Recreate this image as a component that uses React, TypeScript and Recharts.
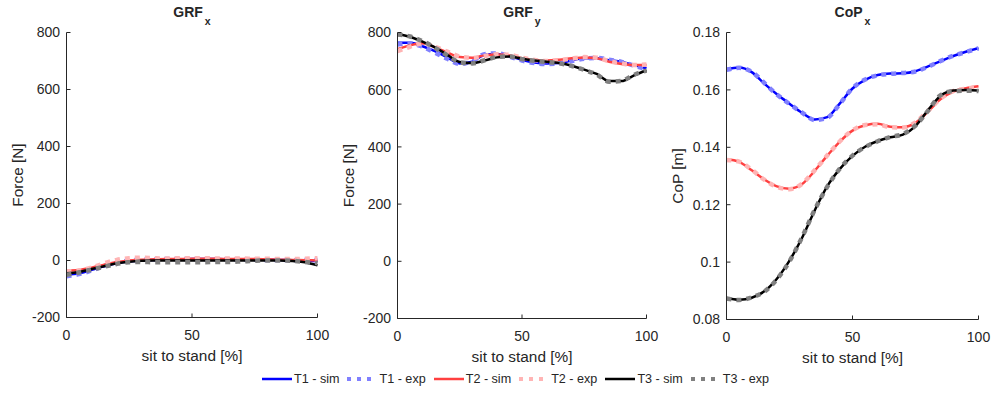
import React from "react";
import { LineChart, Line, XAxis, YAxis } from "recharts";

// sit to stand progress [%]
const pct = [0, 5, 10, 15, 20, 25, 30, 35, 40, 45, 50, 55, 60, 65, 70, 75, 80, 85, 90, 95, 100];

// GRF x [N]
const grfxT1Sim = [-50, -45, -33, -20, -10, -3, 0, 2, 4, 4, 5, 5, 5, 4, 4, 3, 3, 2, 1, 0, -3];
const grfxT1Exp = [-55, -48, -35, -20, -8, 0, 3, 4, 5, 5, 5, 4, 4, 4, 3, 3, 2, 2, 1, 2, 2];
const grfxT2Sim = [-35, -33, -25, -15, -5, 0, 3, 4, 5, 5, 6, 6, 6, 5, 5, 5, 4, 3, 2, 1, 0];
const grfxT2Exp = [-38, -35, -25, -10, 2, 8, 10, 8, 7, 8, 8, 8, 7, 7, 7, 6, 6, 5, 5, 6, 8];
const grfxT3Sim = [-45, -40, -30, -20, -10, -4, -1, 0, 0, 0, 0, 0, 0, 0, 0, 0, 0, 0, -2, -6, -17];
const grfxT3Exp = [-50, -42, -32, -22, -12, -6, -5, -6, -6, -6, -6, -6, -5, -5, -3, -1, 0, 0, -1, -5, -10];

// GRF y [N]
const grfyT1Sim = [764, 764, 752, 735, 713, 692, 698, 722, 725, 717, 704, 695, 692, 693, 703, 710, 710, 703, 697, 686, 675];
const grfyT1Exp = [758, 762, 750, 730, 708, 690, 700, 724, 727, 716, 702, 693, 690, 692, 700, 708, 711, 705, 697, 684, 672];
const grfyT2Sim = [742, 755, 762, 748, 730, 714, 712, 720, 723, 720, 710, 703, 702, 705, 710, 713, 710, 698, 690, 686, 686];
const grfyT2Exp = [735, 750, 762, 750, 733, 716, 711, 718, 724, 722, 712, 704, 700, 703, 709, 714, 712, 700, 692, 686, 688];
const grfyT3Sim = [795, 785, 768, 748, 722, 697, 693, 702, 713, 716, 708, 702, 698, 693, 684, 670, 655, 630, 630, 650, 668];
const grfyT3Exp = [793, 786, 770, 747, 720, 696, 692, 703, 714, 716, 707, 701, 697, 692, 683, 669, 653, 628, 631, 652, 667];

// CoP x [m]
const copT1Sim = [0.1672, 0.1678, 0.1662, 0.1622, 0.1585, 0.1552, 0.152, 0.1497, 0.1505, 0.1553, 0.1605, 0.1635, 0.1652, 0.1657, 0.1658, 0.1665, 0.1682, 0.17, 0.1718, 0.1733, 0.1746];
const copT1Exp = [0.167, 0.1677, 0.1663, 0.1624, 0.1584, 0.1551, 0.1521, 0.1495, 0.1503, 0.1552, 0.1606, 0.1636, 0.1651, 0.1656, 0.1659, 0.1664, 0.1681, 0.1701, 0.1719, 0.1732, 0.1745];
const copT2Sim = [0.1358, 0.1349, 0.132, 0.1288, 0.1264, 0.1256, 0.1272, 0.1318, 0.1371, 0.142, 0.1458, 0.1477, 0.1482, 0.1472, 0.147, 0.1485, 0.1525, 0.1568, 0.1594, 0.1606, 0.1613];
const copT2Exp = [0.1356, 0.135, 0.1322, 0.1287, 0.1262, 0.1254, 0.1273, 0.132, 0.1372, 0.1421, 0.1459, 0.1478, 0.148, 0.147, 0.1469, 0.1487, 0.1527, 0.157, 0.1596, 0.1604, 0.161];
const copT3Sim = [0.0875, 0.0869, 0.0876, 0.0898, 0.0942, 0.1005, 0.1085, 0.118, 0.1265, 0.1325, 0.137, 0.1402, 0.1422, 0.1435, 0.1444, 0.1474, 0.153, 0.158, 0.1598, 0.16, 0.1598];
const copT3Exp = [0.0873, 0.0868, 0.0877, 0.0897, 0.094, 0.1003, 0.1087, 0.1182, 0.1263, 0.1326, 0.1371, 0.1401, 0.1421, 0.1436, 0.1446, 0.1476, 0.1528, 0.1582, 0.1596, 0.1597, 0.1596];

const seriesNames = ["T1 - sim", "T1 - exp", "T2 - sim", "T2 - exp", "T3 - sim", "T3 - exp"];
const seriesColors = ["#0000ff", "#8080ff", "#ff4040", "#ffb4b4", "#000000", "#808080"];
const seriesDashed = [false, true, false, true, false, true];

const xTicks = [0, 50, 100];
const forceTicks = [-200, 0, 200, 400, 600, 800];
const copTicks = [0.08, 0.1, 0.12, 0.14, 0.16, 0.18];

const INK = "#262626";
const FONT = "'Liberation Sans', Arial, Helvetica, sans-serif";

function buildRows(series: number[][]) {
  return pct.map((x, i) => {
    const row: Record<string, number> = { x };
    series.forEach((s, k) => {
      row["s" + k] = s[i];
    });
    return row;
  });
}

const blank = () => "";

function Panel(props: any) {
  const { left, plotW, plotBottom, title, sub, yLabel, domain, ticks, rows, fmt } = props;
  const axisW = 66.5;
  const xAxisH = 60;
  const H = 394;
  const rightPad = 18;
  const W = axisW + plotW + rightPad;
  const tickStyle = { fill: INK, fontSize: 14, fontFamily: FONT };
  return (
    <div style={{ position: "absolute", left, top: 0, width: W, height: H }}>
      <svg
        width={W}
        height={32}
        style={{ position: "absolute", left: 0, top: 0, pointerEvents: "none" }}
      >
        <text
          x={axisW + plotW / 2}
          y={17}
          textAnchor="middle"
          fontFamily={FONT}
          fontWeight="bold"
          fontSize={14}
          fill={INK}
        >
          {title}
          <tspan fontSize={10.5} dx={2} dy={8}>
            {sub}
          </tspan>
        </text>
      </svg>
      <LineChart
        width={W}
        height={H}
        data={rows}
        margin={{ top: 32.5, right: rightPad, bottom: H - plotBottom - xAxisH, left: 0 }}
        style={{ overflow: "visible" }}
      >
        <XAxis
          xAxisId="b"
          dataKey="x"
          type="number"
          domain={[0, 100]}
          ticks={xTicks}
          interval={0}
          height={xAxisH}
          tickSize={-4}
          tickMargin={16.5}
          tick={tickStyle}
          axisLine={{ stroke: INK }}
          tickLine={{ stroke: INK }}
          label={(p: any) => (
            <text
              x={p.viewBox.x + p.viewBox.width / 2}
              y={p.viewBox.y + 43.5}
              textAnchor="middle"
              fontFamily={FONT}
              fontSize={15.4}
              fill={INK}
            >
              sit to stand [%]
            </text>
          )}
        />
        <XAxis
          xAxisId="t"
          orientation="top"
          dataKey="x"
          type="number"
          domain={[0, 100]}
          ticks={xTicks}
          interval={0}
          height={0}
          tickSize={-4}
          tickFormatter={blank}
          axisLine={{ stroke: INK }}
          tickLine={{ stroke: INK }}
        />
        <YAxis
          yAxisId="l"
          type="number"
          width={axisW}
          domain={domain}
          ticks={ticks}
          interval={0}
          allowDataOverflow
          tickSize={-4}
          tickMargin={10.5}
          tick={tickStyle}
          tickFormatter={fmt}
          axisLine={{ stroke: INK }}
          tickLine={{ stroke: INK }}
          label={(p: any) => {
            const cx = p.viewBox.x + 17.5;
            const cy = p.viewBox.y + p.viewBox.height / 2;
            return (
              <text
                x={cx}
                y={cy}
                transform={`rotate(-90, ${cx}, ${cy})`}
                textAnchor="middle"
                dominantBaseline="central"
                fontFamily={FONT}
                fontSize={15.4}
                fill={INK}
              >
                {yLabel}
              </text>
            );
          }}
        />
        <YAxis
          yAxisId="r"
          orientation="right"
          type="number"
          width={0}
          domain={domain}
          ticks={ticks}
          interval={0}
          allowDataOverflow
          tickSize={-4}
          tickFormatter={blank}
          axisLine={{ stroke: INK }}
          tickLine={{ stroke: INK }}
        />
        {seriesNames.map((name, k) => (
          <Line
            key={name}
            xAxisId="b"
            yAxisId="l"
            dataKey={"s" + k}
            name={name}
            type="monotone"
            stroke={seriesColors[k]}
            strokeWidth={seriesDashed[k] ? 4.5 : 2.5}
            strokeDasharray={seriesDashed[k] ? "5 5" : undefined}
            strokeLinecap="butt"
            dot={false}
            activeDot={false}
            isAnimationActive={false}
          />
        ))}
      </LineChart>
    </div>
  );
}

function LegendRow() {
  return (
    <div
      style={{
        position: "absolute",
        left: 262,
        top: 371,
        display: "flex",
        alignItems: "center",
        fontFamily: FONT,
        fontSize: 12.6,
        color: INK,
        whiteSpace: "nowrap",
      }}
    >
      {seriesNames.map((name, k) => (
        <div key={name} style={{ display: "flex", alignItems: "center", marginRight: 8 }}>
          <svg width={30} height={16}>
            <line
              x1={0}
              x2={30}
              y1={8}
              y2={8}
              stroke={seriesColors[k]}
              strokeWidth={seriesDashed[k] ? 4 : 2.5}
              strokeDasharray={seriesDashed[k] ? "4 6" : undefined}
            />
          </svg>
          <span style={{ marginLeft: 2, lineHeight: "16px" }}>{name}</span>
        </div>
      ))}
    </div>
  );
}

const forceFmt = (v: number) => String(v);
const copFmt = (v: number) => String(+v.toFixed(2));

export default function App() {
  const grfxRows = buildRows([grfxT1Sim, grfxT1Exp, grfxT2Sim, grfxT2Exp, grfxT3Sim, grfxT3Exp]);
  const grfyRows = buildRows([grfyT1Sim, grfyT1Exp, grfyT2Sim, grfyT2Exp, grfyT3Sim, grfyT3Exp]);
  const copRows = buildRows([copT1Sim, copT1Exp, copT2Sim, copT2Exp, copT3Sim, copT3Exp]);
  return (
    <div
      style={{
        position: "absolute",
        left: 0,
        top: 0,
        width: 991,
        height: 394,
        background: "#ffffff",
        overflow: "hidden",
      }}
    >
      <Panel
        left={0}
        plotW={251}
        plotBottom={317.5}
        title="GRF"
        sub="x"
        yLabel="Force [N]"
        domain={[-200, 800]}
        ticks={forceTicks}
        rows={grfxRows}
        fmt={forceFmt}
      />
      <Panel
        left={331}
        plotW={249}
        plotBottom={318.5}
        title="GRF"
        sub="y"
        yLabel="Force [N]"
        domain={[-200, 800]}
        ticks={forceTicks}
        rows={grfyRows}
        fmt={forceFmt}
      />
      <Panel
        left={660}
        plotW={252}
        plotBottom={319.5}
        title="CoP"
        sub="x"
        yLabel="CoP [m]"
        domain={[0.08, 0.18]}
        ticks={copTicks}
        rows={copRows}
        fmt={copFmt}
      />
      <LegendRow />
    </div>
  );
}
